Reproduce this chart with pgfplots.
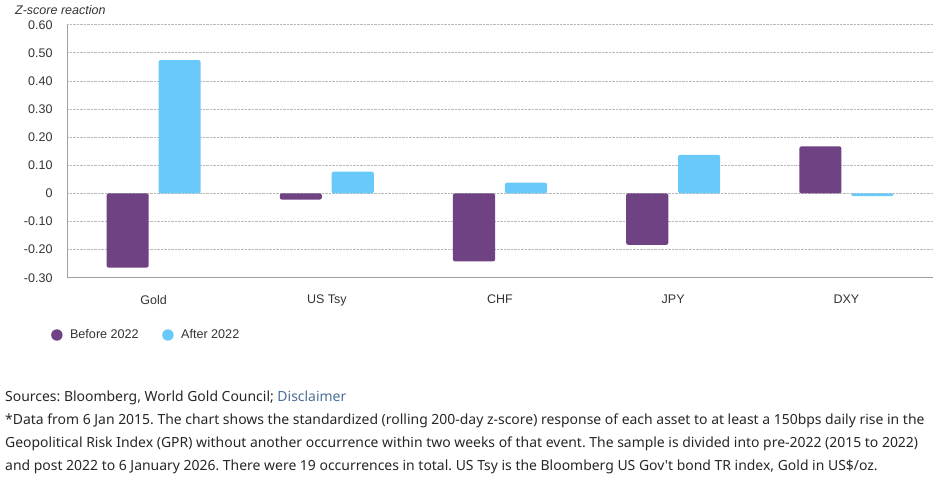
\documentclass[border=0pt]{standalone}
\usepackage{pgfplots}
\pgfplotsset{compat=1.18}
\usepackage{fontspec}
\setmainfont{Liberation Sans}
\newfontfamily\notefont{Noto Sans}
\definecolor{pur}{RGB}{111,66,131}
\definecolor{sky}{RGB}{104,201,250}
\definecolor{txt}{RGB}{51,51,51}
\definecolor{disc}{RGB}{74,110,150}
\definecolor{gridc}{RGB}{185,185,185}
\definecolor{axc}{RGB}{160,160,160}
\frenchspacing
\begin{document}
\begin{tikzpicture}[x=1pt,y=1pt]
\path (0,0) rectangle (935,482);
\begin{axis}[
  at={(67pt,204.3pt)}, anchor=south west, scale only axis,
  width=866pt, height=253pt,
  xmin=-0.5, xmax=4.5, ymin=-0.3, ymax=0.6,
  axis x line*=bottom, axis y line*=left,
  axis line style={draw=axc, line width=0.8pt},
  major tick length=0pt,
  ytick={-0.3,-0.2,-0.1,0,0.1,0.2,0.3,0.4,0.5,0.6},
  yticklabels={-0.30,-0.20,-0.10,0,0.10,0.20,0.30,0.40,0.50,0.60},
  xtick={0,1,2,3,4},
  xticklabels={Gold,US Tsy,CHF,JPY,DXY},
  ymajorgrids,
  major grid style={densely dotted, draw=gridc, line width=0.7pt},
  tick label style={font=\fontsize{12.5}{14}\selectfont, text=txt},
  yticklabel style={xshift=-11pt},
  xticklabel style={yshift=-14pt},
  /pgf/number format/assume math mode=true,
  legend style={at={(-0.0185,-0.2265)}, anchor=west, draw=none, fill=none,
    legend columns=2, text=txt,
    /tikz/every odd column/.append style={column sep=4pt},
    /tikz/every even column/.append style={column sep=20pt},
    inner sep=0pt, nodes={inner sep=3.5pt}},
  clip=false,
]
\addplot[ybar, bar width=0.243, bar shift=-0.15, fill=pur, draw=none, rounded corners=2pt,
  legend image code/.code={\fill (5.7pt,0pt) circle (5.7pt);}]
  coordinates {(0,-0.264) (1,-0.022) (2,-0.242) (3,-0.183) (4,0.167)};
\addlegendentry{\fontsize{12.6}{14}\selectfont Before 2022}
\addplot[ybar, bar width=0.243, bar shift=0.15, fill=sky, draw=none, rounded corners=2pt,
  legend image code/.code={\fill (5.7pt,0pt) circle (5.7pt);}]
  coordinates {(0,0.474) (1,0.077) (2,0.038) (3,0.137) (4,-0.01)};
\addlegendentry{\fontsize{12.6}{14}\selectfont After 2022}
\end{axis}
\node[anchor=west, inner sep=0pt, text=txt, font=\fontsize{12.5}{14}\selectfont\itshape] at (15,472) {Z-score reaction};
\begin{scope}[every node/.style={anchor=base west, inner sep=0pt, font=\notefont\fontsize{13.95}{16}\selectfont, text=black!85}]
\node at (5,80) {Sources: Bloomberg, World Gold Council; \textcolor{disc}{Disclaimer}};
\node at (5,57) {*Data from 6 Jan 2015. The chart shows the standardized (rolling 200-day z-score) response of each asset to at least a 150bps daily rise in the};
\node at (5,34) {Geopolitical Risk Index (GPR) without another occurrence within two weeks of that event. The sample is divided into pre-2022 (2015 to 2022)};
\node at (5,11) {and post 2022 to 6 January 2026. There were 19 occurrences in total. US Tsy is the Bloomberg US Gov't bond TR index, Gold in US\$/oz.};
\end{scope}
\end{tikzpicture}
\end{document}
